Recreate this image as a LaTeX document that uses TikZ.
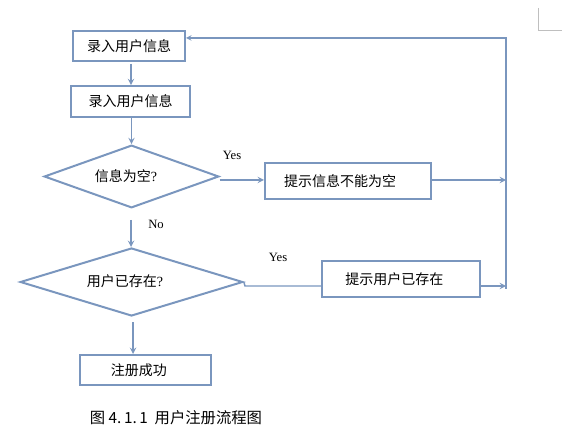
\documentclass[tikz,border=0pt]{standalone}
\usepackage{fontspec}
\setmainfont{Liberation Serif}
\newfontfamily\cjk{Noto Sans CJK SC}
\usetikzlibrary{shapes.geometric}
\definecolor{flowblue}{RGB}{122,150,190}
\tikzset{
  stepbox/.style={draw=flowblue, line width=1.5pt, inner sep=0pt, font=\cjk\fontsize{10.5pt}{12pt}\selectfont},
  decide/.style={diamond, draw=flowblue, line width=1.5pt, inner sep=0pt, font=\cjk\fontsize{10.5pt}{12pt}\selectfont},
  flow/.style={draw=flowblue, line width=1.1pt},
  lbl/.style={font=\fontsize{9.5pt}{11pt}\selectfont}
}
\begin{document}
\begin{tikzpicture}[x=0.75pt,y=-0.75pt]
\useasboundingbox (0,0) rectangle (574,441);
\node[stepbox, minimum width=84pt, minimum height=22.5pt] at (129,46) (in1) {录入用户信息};
\node[stepbox, minimum width=89pt, minimum height=23pt] at (130.5,101.5) (in2) {录入用户信息};
\node[decide, minimum width=131pt, minimum height=47pt] at (131.5,176.5) (d1) {};
\node[font=\cjk\fontsize{10.5pt}{12pt}\selectfont] at (126,176) (t1) {信息为空\textrm{?}};
\node[stepbox, minimum width=124.5pt, minimum height=27pt] at (348,181) (m1) {\hspace*{-12pt}提示信息不能为空};
\node[decide, minimum width=167pt, minimum height=51pt] at (131.5,282) (d2) {};
\node[font=\cjk\fontsize{10.5pt}{12pt}\selectfont] at (125,281) (t2) {用户已存在\textrm{?}};
\node[stepbox, minimum width=118.5pt, minimum height=27pt] at (401,279) (m2) {\hspace*{-10pt}提示用户已存在};
\node[stepbox, minimum width=98pt, minimum height=22.5pt] at (145.5,370) (ok) {\hspace*{-10pt}注册成功};
\node[lbl] at (232,155) (y1) {Yes};
\node[lbl] at (156,224) (n1) {No};
\node[lbl] at (278,257) (y2) {Yes};
\node[font=\cjk\fontsize{11.5pt}{13pt}\selectfont] at (176,418) (cap) {图 4.\,1.\,1\ \ 用户注册流程图};
\coordinate (s0) at (131,64);
\coordinate (s1) at (131,220);
\coordinate (s2) at (133,322);
\coordinate (rtop) at (506,38);
\coordinate (rbot) at (506,289);
\coordinate (r1) at (506,180);
\coordinate (j2) at (245,286);
\coordinate (r2) at (506,286);
\draw[flow,-stealth] (s0) -- (s0 |- in2.north);
\draw[flow,-stealth] (in2.south -| d1.north) -- (d1.north);
\draw[flow,-stealth] (d1.east |- r1) -- (m1.west |- r1);
\draw[flow,-stealth] (m1.east |- r1) -- (r1);
\draw[flow,-stealth] (s1) -- (s1 |- d2.north);
\draw[flow] (d2.east) -- (j2) -- (m2.west |- j2);
\draw[flow,-stealth] (m2.east |- j2) -- (r2);
\draw[flow,-stealth] (s2) -- (s2 |- ok.north);
\draw[flow, line width=0.8pt,-stealth] (rbot) -- (rtop) -- (in1.east |- rtop);
\draw[gray!50, line width=0.5pt] (538,8) -- (538,30) -- (562,30);
\end{tikzpicture}
\end{document}
